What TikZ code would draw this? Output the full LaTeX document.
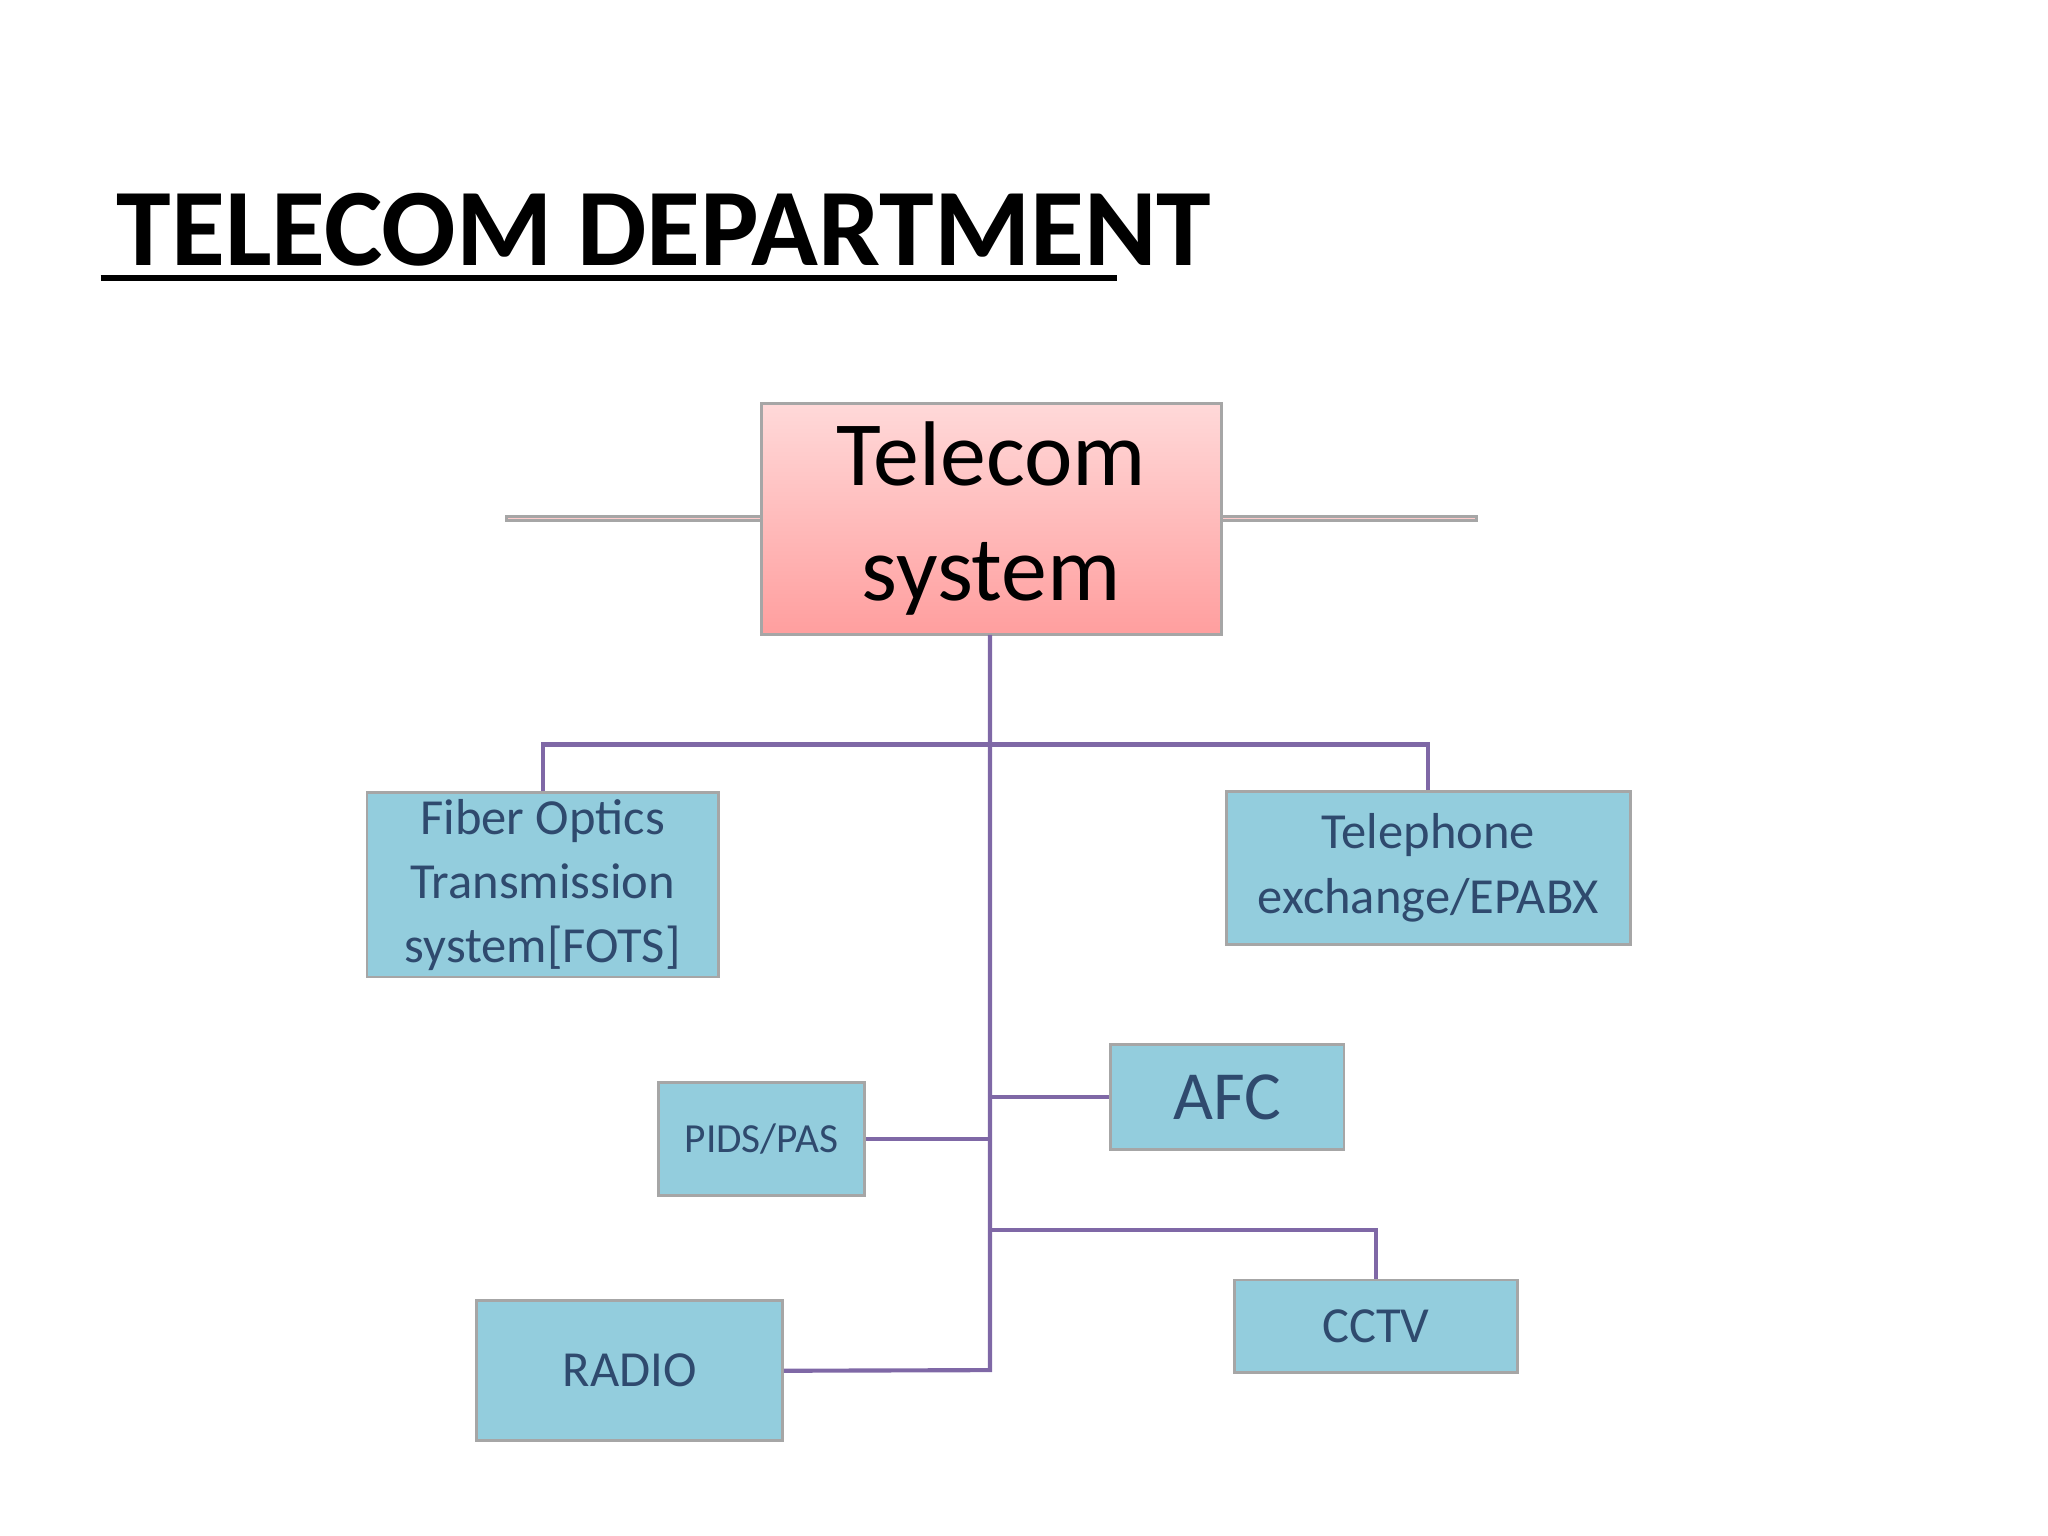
\documentclass[tikz,border=0pt]{standalone}
\usepackage{fontspec}
\setmainfont{Carlito}
\definecolor{boxblue}{HTML}{93CDDD}
\definecolor{txtblue}{HTML}{2F4A6E}
\definecolor{linep}{HTML}{7F68A6}
\begin{document}
\begin{tikzpicture}[x=0.01cm,y=-0.01cm,
 bx/.style={draw=gray!70,line width=0.6pt,fill=boxblue,text=txtblue,align=center,inner sep=0pt},
 conn/.style={draw=linep,line width=0.9pt}]
\useasboundingbox (0,0) rectangle (1568,1176);
\node[anchor=base west,font=\bfseries\fontsize{24}{28}\selectfont] (title) at (77,203) {TELECOM DEPARTMENT};
\draw[line width=1.2pt] (77,213) -- (855,213);
\node[draw=gray!70,line width=0.6pt,top color=pink!40,bottom color=red!35!pink!70,minimum width=352\pgflinewidth,align=center,font=\fontsize{20}{26}\selectfont,inner sep=0pt] (ts) at (759,397) {};
\path[draw=gray!70,line width=0.6pt,top color=red!15,bottom color=red!38] (583,309) rectangle (935,486);
\node[align=center,font=\fontsize{20}{25}\selectfont] (tsys) at (759,397) {Telecom\\system};
\node[bx,minimum width=2.69cm,minimum height=1.41cm,font=\fontsize{11}{14}\selectfont] (fots) at (415.5,677.5) {Fiber Optics\\Transmission\\system[FOTS]};
\node[bx,minimum width=3.09cm,minimum height=1.17cm,font=\fontsize{11}{14}\selectfont] (tel) at (1093.5,664.5) {Telephone\\exchange/EPABX};
\node[bx,minimum width=1.58cm,minimum height=0.86cm,font=\fontsize{9}{11}\selectfont] (pids) at (583,872) {PIDS/PAS};
\node[bx,minimum width=1.79cm,minimum height=0.80cm,font=\fontsize{15}{18}\selectfont] (afc) at (939.5,840) {AFC};
\node[bx,minimum width=2.34cm,minimum height=1.07cm,font=\fontsize{11}{14}\selectfont] (radio) at (482,1049.5) {RADIO};
\node[bx,minimum width=2.17cm,minimum height=0.71cm,font=\fontsize{11}{14}\selectfont] (cctv) at (1053.5,1015.5) {CCTV};
\coordinate (t0) at (758,486);
\coordinate (j1) at (758,570);
\draw[conn] (t0) -- (758,1049) -- (radio.east);
\draw[conn] (fots.north) |- (j1) -| (tel.north);
\draw[conn] (pids.east) -- (758,872);
\draw[conn] (758,840) -- (afc.west);
\draw[conn] (758,942) -| (cctv.north);
\end{tikzpicture}
\end{document}
